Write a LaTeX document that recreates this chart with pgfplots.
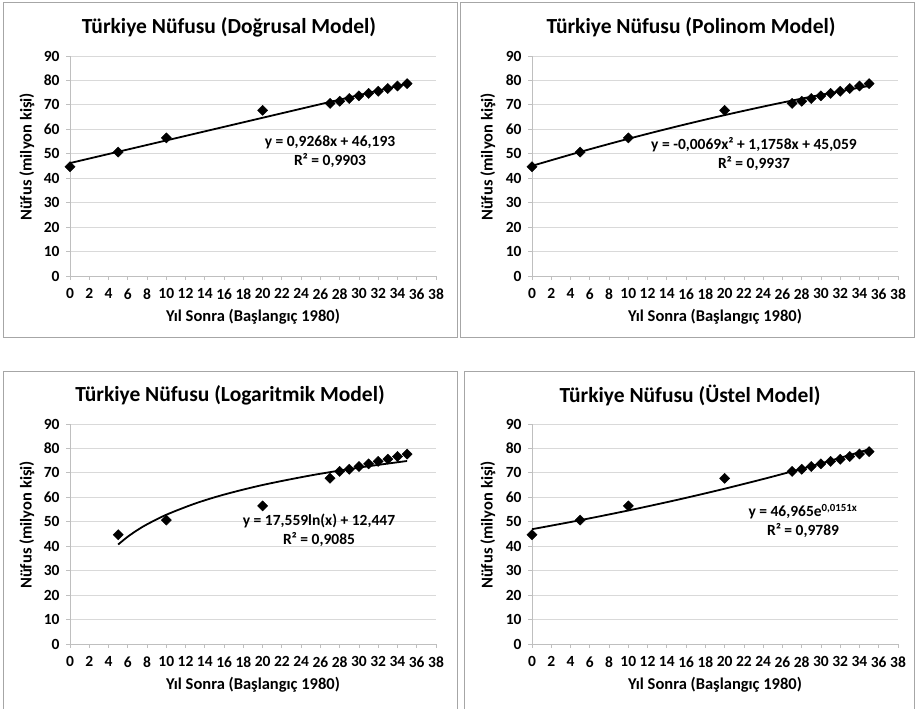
\documentclass[border=0pt]{standalone}
\usepackage{fontspec}
\setmainfont{Carlito}
\usepackage{pgfplots}
\pgfplotsset{compat=1.18}

\definecolor{gridc}{HTML}{D9D9D9}
\definecolor{axc}{HTML}{BFBFBF}
\definecolor{framec}{HTML}{A6A6A6}

\pgfplotsset{
  panel/.style={
    scale only axis, width=366pt, height=220pt, anchor=south west,
    xmin=0, xmax=38, ymin=0, ymax=90,
    xtick={0,2,...,38}, ytick={0,10,...,90},
    axis x line=bottom, axis y line=left,
    axis line style={axc, -, line width=0.8pt},
    ymajorgrids, grid style={gridc, line width=0.8pt},
    tick align=outside, major tick length=4pt,
    tick style={axc, line width=0.8pt},
    ticklabel style={font=\fontsize{15.5}{16}\selectfont\bfseries},
    xticklabel style={yshift=-5pt},
    yticklabel style={xshift=-3pt},
    /pgf/number format/assume math mode=true,
    clip=false,
  },
  pts/.style={only marks, mark=square*,
    mark options={rotate=45, black, mark size=3.6pt}},
  fit/.style={black, line width=1.8pt, no marks, smooth},
}

% yil sonra, nufus (milyon)
\pgfplotstableread{
x y
0 44.7
5 50.7
10 56.5
20 67.8
27 70.6
28 71.5
29 72.6
30 73.7
31 74.7
32 75.6
33 76.7
34 77.7
35 78.7
}\nufus

% logaritmik grafikte x=0 yok, degerler bir kaydirilmis
\pgfplotstableread{
x y
5 44.7
10 50.7
20 56.5
27 67.8
28 70.6
29 71.5
30 72.6
31 73.7
32 74.7
33 75.6
34 76.7
35 77.7
}\nufuslog

\tikzset{eq/.style={font=\fontsize{15.5}{19}\selectfont\bfseries, align=center},
         ttl/.style={font=\fontsize{21.5}{23}\selectfont\bfseries},
         lbl/.style={font=\fontsize{16.5}{17}\selectfont\bfseries}}

\begin{document}
\begin{tikzpicture}[x=1pt,y=1pt]
\path[use as bounding box] (0,0) rectangle (916,709);

% cerceveler
\draw[framec, line width=1pt] (3,371) rectangle (457,706);
\draw[framec, line width=1pt] (460,371) rectangle (914,706);
\draw[framec, line width=1pt] (3,0) -- (3,337) -- (457,337) -- (457,0);
\draw[framec, line width=1pt] (464,0) -- (464,337) -- (914,337) -- (914,0);

% dogrusal
\begin{axis}[panel, at={(70pt,433pt)}]
\addplot[fit] coordinates {(0,46.193) (35,78.631)};
\addplot[pts] table {\nufus};
\end{axis}
\node[ttl] at (229,682) {Türkiye Nüfusu (Doğrusal Model)};
\node[eq] at (330,557) {y = 0,9268x + 46,193\\R² = 0,9903};
\node[lbl] at (253,392) {Yıl Sonra (Başlangıç 1980)};
\node[lbl, rotate=90] at (27,552) {Nüfus (milyon kişi)};

% polinom
\begin{axis}[panel, at={(532pt,433pt)}]
\addplot[fit] coordinates {(0,45.059) (5,50.766) (10,56.127) (15,61.144)
  (20,65.815) (25,70.142) (30,74.123) (35,77.760)};
\addplot[pts] table {\nufus};
\end{axis}
\node[ttl] at (691,682) {Türkiye Nüfusu (Polinom Model)};
\node[eq] at (754,555) {y = -0,0069x² + 1,1758x + 45,059\\R² = 0,9937};
\node[lbl] at (715,392) {Yıl Sonra (Başlangıç 1980)};
\node[lbl, rotate=90] at (488,552) {Nüfus (milyon kişi)};

% logaritmik
\begin{axis}[panel, at={(70pt,65pt)}]
\addplot[fit] coordinates {(5,40.707) (6,43.908) (7,46.615) (8,48.960)
  (10,52.878) (13,57.484) (16,61.131) (20,65.049) (25,68.967)
  (30,72.168) (35,74.874)};
\addplot[pts] table {\nufuslog};
\end{axis}
\node[ttl] at (230,314) {Türkiye Nüfusu (Logaritmik Model)};
\node[eq] at (319,179) {y = 17,559ln(x) + 12,447\\R² = 0,9085};
\node[lbl] at (253,24) {Yıl Sonra (Başlangıç 1980)};
\node[lbl, rotate=90] at (27,184) {Nüfus (milyon kişi)};

% ustel
\begin{axis}[panel, at={(532pt,65pt)}]
\addplot[fit] coordinates {(0,46.965) (5,50.648) (10,54.620) (15,58.903)
  (20,63.522) (25,68.504) (30,73.876) (35,79.670)};
\addplot[pts] table {\nufus};
\end{axis}
\node[ttl] at (690,314) {Türkiye Nüfusu (Üstel Model)};
\node[eq] at (803,188) {y = 46,965e\textsuperscript{0,0151x}\\R² = 0,9789};
\node[lbl] at (715,24) {Yıl Sonra (Başlangıç 1980)};
\node[lbl, rotate=90] at (488,184) {Nüfus (milyon kişi)};
\end{tikzpicture}
\end{document}
